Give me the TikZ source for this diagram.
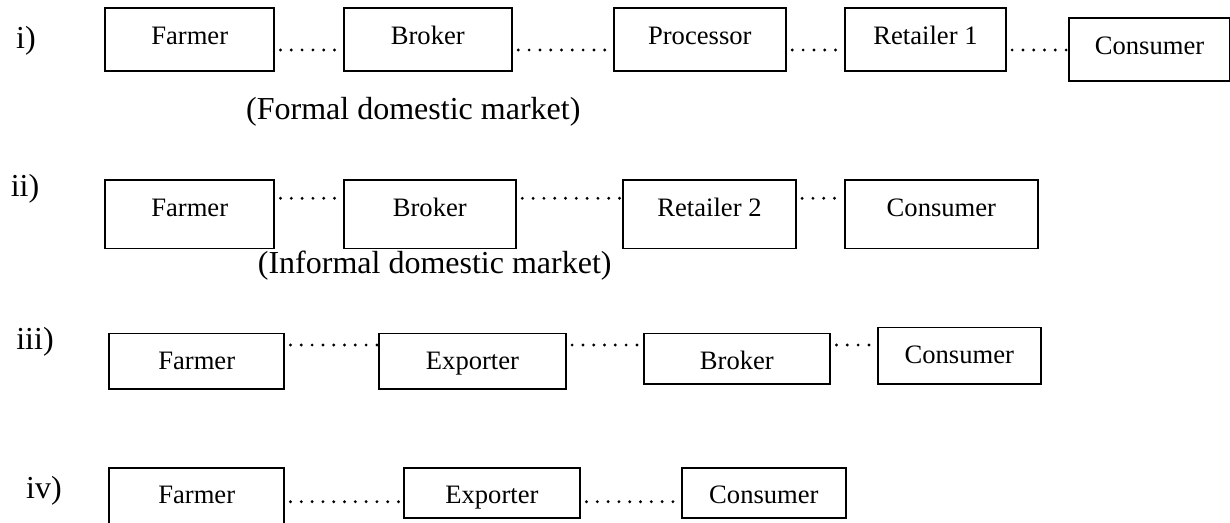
\documentclass[tikz,border=0pt]{standalone}
\usepackage{fontspec}
\setmainfont{Liberation Serif}
\tikzset{
  box/.style={draw, line width=0.9pt, anchor=north west, inner sep=0pt, text height=18pt, font=\fontsize{13.3}{16}\selectfont},
  rowa/.style={text depth=13.35pt},
  rowb/.style={text depth=16.2pt},
  rowc/.style={text depth=9.8pt},
  rowd/.style={text depth=7pt},
  dots/.style={line width=1.6pt, line cap=round, dash pattern=on 0pt off 5.4pt, dash phase=-2.7pt},
  lbl/.style={anchor=base, font=\fontsize{16}{19}\selectfont}
}

\begin{document}
\begin{tikzpicture}[x=0.5pt, y=-0.5pt]
  \useasboundingbox (0,0) rectangle (1230,523);

  % i) formal domestic market
  \node[lbl] (n1) at (26,49) {i)};
  \node[box,rowa,minimum width=84.5pt] (f1) at (104.3,7.3) {Farmer};
  \node[box,rowa,minimum width=84.2pt] (b1) at (342.7,7.3) {Broker};
  \node[box,rowa,minimum width=86.2pt] (p1) at (612.7,7.3) {Processor};
  \node[box,rowa,minimum width=80.3pt] (r1) at (844.3,7.3) {Retailer 1};
  \node[box,rowa,minimum width=80.3pt] (c1) at (1068.3,17.3) {Consumer};
  \node[lbl] (t1) at (413.3,120) {(Formal domestic market)};
  \coordinate (ya) at (0,50);
  \draw[dots] (f1.east |- ya) -- (b1.west |- ya);
  \draw[dots] (b1.east |- ya) -- (p1.west |- ya);
  \draw[dots] (p1.east |- ya) -- (r1.west |- ya);
  \draw[dots] (r1.east |- ya) -- (c1.west |- ya);

  % ii) informal domestic market
  \node[lbl] (n2) at (25,197) {ii)};
  \node[box,rowb,minimum width=84.5pt] (f2) at (104.3,179.3) {Farmer};
  \node[box,rowb,minimum width=86.2pt] (b2) at (342.7,179.3) {Broker};
  \node[box,rowb,minimum width=86.3pt] (r2) at (622.3,179.3) {Retailer 2};
  \node[box,rowb,minimum width=96.2pt] (c2) at (844.3,179.3) {Consumer};
  \node[lbl] (t2) at (434.7,274) {(Informal domestic market)};
  \coordinate (yb) at (0,198.3);
  \draw[dots] (f2.east |- yb) -- (b2.west |- yb);
  \draw[dots] (b2.east |- yb) -- (r2.west |- yb);
  \draw[dots] (r2.east |- yb) -- (c2.west |- yb);

  % iii) export through broker
  \node[lbl] (n3) at (35,350) {iii)};
  \node[box,rowc,minimum width=87.5pt] (f3) at (108.3,332.7) {Farmer};
  \node[box,rowc,minimum width=93.3pt] (e3) at (378.3,332.7) {Exporter};
  \node[box,rowd,minimum width=93.3pt] (b3) at (642.7,332.7) {Broker};
  \node[box,text depth=10pt,minimum width=81.7pt] (c3) at (876.7,326.7) {Consumer};
  \coordinate (yc) at (0,345);
  \draw[dots] (f3.east |- yc) -- (e3.west |- yc);
  \draw[dots] (e3.east |- yc) -- (b3.west |- yc);
  \draw[dots] (b3.east |- yc) -- (c3.west |- yc);

  % iv) direct export
  \node[lbl] (n4) at (44,498) {iv)};
  \node[box,text depth=19pt,minimum width=87.5pt] (f4) at (108.3,466.7) {Farmer};
  \node[box,rowd,minimum width=88.3pt] (e4) at (402.7,466.7) {Exporter};
  \node[box,rowd,minimum width=82pt] (c4) at (681,466.7) {Consumer};
  \coordinate (yd) at (0,501.7);
  \draw[dots] (f4.east |- yd) -- (e4.west |- yd);
  \draw[dots] (e4.east |- yd) -- (c4.west |- yd);
\end{tikzpicture}
\end{document}
